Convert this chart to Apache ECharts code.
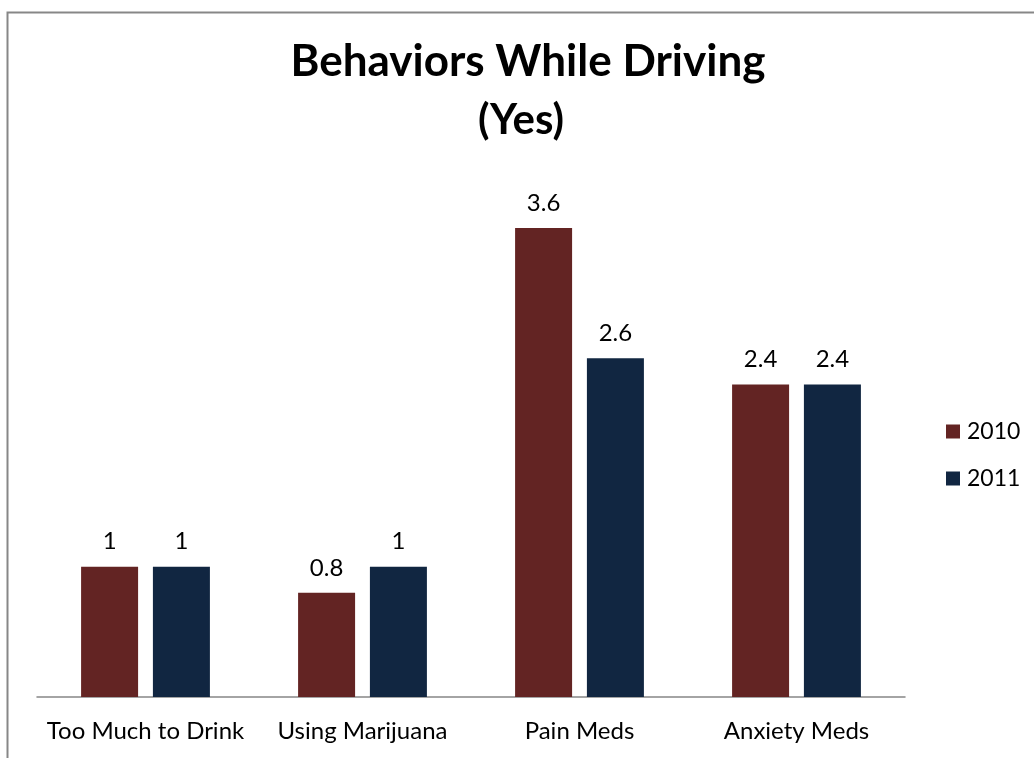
<!DOCTYPE html>
<html><head><meta charset="utf-8">
<script src="https://cdn.jsdelivr.net/npm/echarts@6/dist/echarts.min.js"></script>
<style>html,body{margin:0;padding:0;background:#fff}#c{width:1034px;height:758px}</style>
</head><body><div id="c"></div>
<script>
const categories = ['Too Much to Drink', 'Using Marijuana', 'Pain Meds', 'Anxiety Meds'];
const values2010 = [1, 0.8, 3.6, 2.4];
const values2011 = [1, 1, 2.6, 2.4];
const seriesNames = ['2010', '2011'];
const titleText = 'Behaviors While Driving';
const subtitleText = '(Yes)';
const FONT = 'Lato, "Open Sans", sans-serif';
const chart = echarts.init(document.getElementById('c'));
chart.setOption({
  animation: false,
  backgroundColor: '#fff',
  graphic: [
    {type:'rect', shape:{x:7.5,y:12.5,width:1100,height:1000}, style:{fill:'none', stroke:'#878787', lineWidth:2}, silent:true},
    {type:'text', x:528, y:62, style:{text:titleText, font:'bold 44px ' + FONT, fill:'#000', align:'center', verticalAlign:'middle'}},
    {type:'text', x:521, y:120, style:{text:subtitleText, font:'bold 42px ' + FONT, fill:'#000', align:'center', verticalAlign:'middle'}}
  ],
  legend: {
    orient: 'vertical', left: 946, top: 420, padding: 0, itemWidth: 14, itemHeight: 14, itemGap: 24,
    icon: 'rect', data: seriesNames,
    textStyle: {fontFamily: FONT, fontSize: 23, color: '#000', padding:[0,0,0,2]}
  },
  grid: {left: 37, right: 1034-905, top: 176, bottom: 758-697, containLabel: false},
  xAxis: {
    type: 'category', data: categories,
    axisLine: {lineStyle: {color: '#868686', width: 1.5}},
    axisTick: {show: false},
    axisLabel: {fontFamily: FONT, fontSize: 24, color: '#000', margin: 22, interval: 0}
  },
  yAxis: {type: 'value', min: 0, max: 4, show: false, splitLine: {show: false}},
  series: [
    {name: seriesNames[0], type: 'bar', data: values2010, barWidth: 57, barGap: '26%',
     itemStyle: {color: '#632423'},
     label: {show: true, position: 'top', distance: 13, fontFamily: FONT, fontSize: 24, color: '#000'}},
    {name: seriesNames[1], type: 'bar', data: values2011, barWidth: 57, barGap: '26%',
     itemStyle: {color: '#112641'},
     label: {show: true, position: 'top', distance: 13, fontFamily: FONT, fontSize: 24, color: '#000'}}
  ]
});
</script></body></html>
